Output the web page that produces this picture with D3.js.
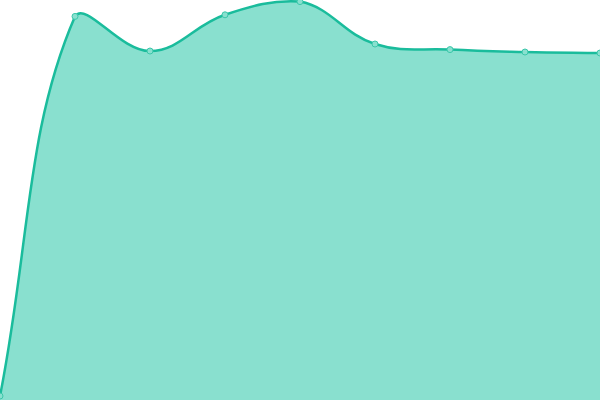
<!DOCTYPE html>
<html>
<head>
<meta charset="utf-8">
<script src="https://cdn.jsdelivr.net/npm/d3@7"></script>
<style>
  html, body { margin: 0; padding: 0; background: #fff; }
  svg { display: block; }
</style>
</head>
<body>
<svg width="600" height="400"></svg>
<script>
const width = 600,
  height = 400

const labels = ['1', '2', '3', '4', '5', '6', '7', '8', '9']
const values = [1, 95.9, 87.25, 96.3, 99.6, 89, 87.6, 87, 86.75]

let data = labels.map((l, i) => ({ label: l, value: values[i] }))

let x = d3.scalePoint()
  .domain(labels)
  .range([0, width])

let y = d3.scaleLinear()
  .domain([0, 100])
  .range([height, 0])

// spline with distance-weighted control points (tension 0.4), clamped to the chart box
function SplineCurve(context) { this._context = context }
SplineCurve.prototype = {
  areaStart() { this._line = 0 },
  areaEnd() { this._line = NaN },
  lineStart() { this._pts = [] },
  point(px, py) { this._pts.push([+px, +py]) },
  lineEnd() {
    let p = this._pts, n = p.length, ctx = this._context, t = 0.4
    if (n) {
      if (this._line) ctx.lineTo(p[0][0], p[0][1])
      else ctx.moveTo(p[0][0], p[0][1])
      let clampX = v => Math.max(0, Math.min(width, v)),
        clampY = v => Math.max(0, Math.min(height, v))
      let cps = p.map((cur, i) => {
        let prev = p[i - 1] || cur, next = p[i + 1] || cur
        let d01 = Math.hypot(cur[0] - prev[0], cur[1] - prev[1]),
          d12 = Math.hypot(next[0] - cur[0], next[1] - cur[1])
        let s01 = d01 / (d01 + d12), s12 = d12 / (d01 + d12)
        if (isNaN(s01)) s01 = 0
        if (isNaN(s12)) s12 = 0
        let fa = t * s01, fb = t * s12
        return {
          prev: [clampX(cur[0] - fa * (next[0] - prev[0])), clampY(cur[1] - fa * (next[1] - prev[1]))],
          next: [clampX(cur[0] + fb * (next[0] - prev[0])), clampY(cur[1] + fb * (next[1] - prev[1]))]
        }
      })
      for (let i = 1; i < n; i++) {
        let a = cps[i - 1].next, b = cps[i].prev
        ctx.bezierCurveTo(a[0], a[1], b[0], b[1], p[i][0], p[i][1])
      }
    }
    if (this._line || (this._line !== 0 && n === 1)) ctx.closePath()
    this._line = 1 - this._line
  }
}
let curveSpline = context => new SplineCurve(context)

let svg = d3.select('svg')

let area = d3.area()
  .x(d => x(d.label))
  .y0(height)
  .y1(d => y(d.value))
  .curve(curveSpline)

let line = d3.line()
  .x(d => x(d.label))
  .y(d => y(d.value))
  .curve(curveSpline)

svg.append('path')
  .datum(data)
  .attr('fill', '#89e0cf')
  .attr('d', area)

svg.append('path')
  .datum(data)
  .attr('fill', 'none')
  .attr('stroke', '#1abc9c')
  .attr('stroke-width', 2.5)
  .attr('d', line)

svg.selectAll('circle.pt')
  .data(data)
  .enter()
    .append('circle')
    .attr('class', 'pt')
    .attr('cx', d => x(d.label))
    .attr('cy', d => y(d.value))
    .attr('r', 3)
    .attr('fill', '#89e0cf')
    .attr('stroke', '#3cc7aa')
    .attr('stroke-width', 1)
</script>
</body>
</html>
